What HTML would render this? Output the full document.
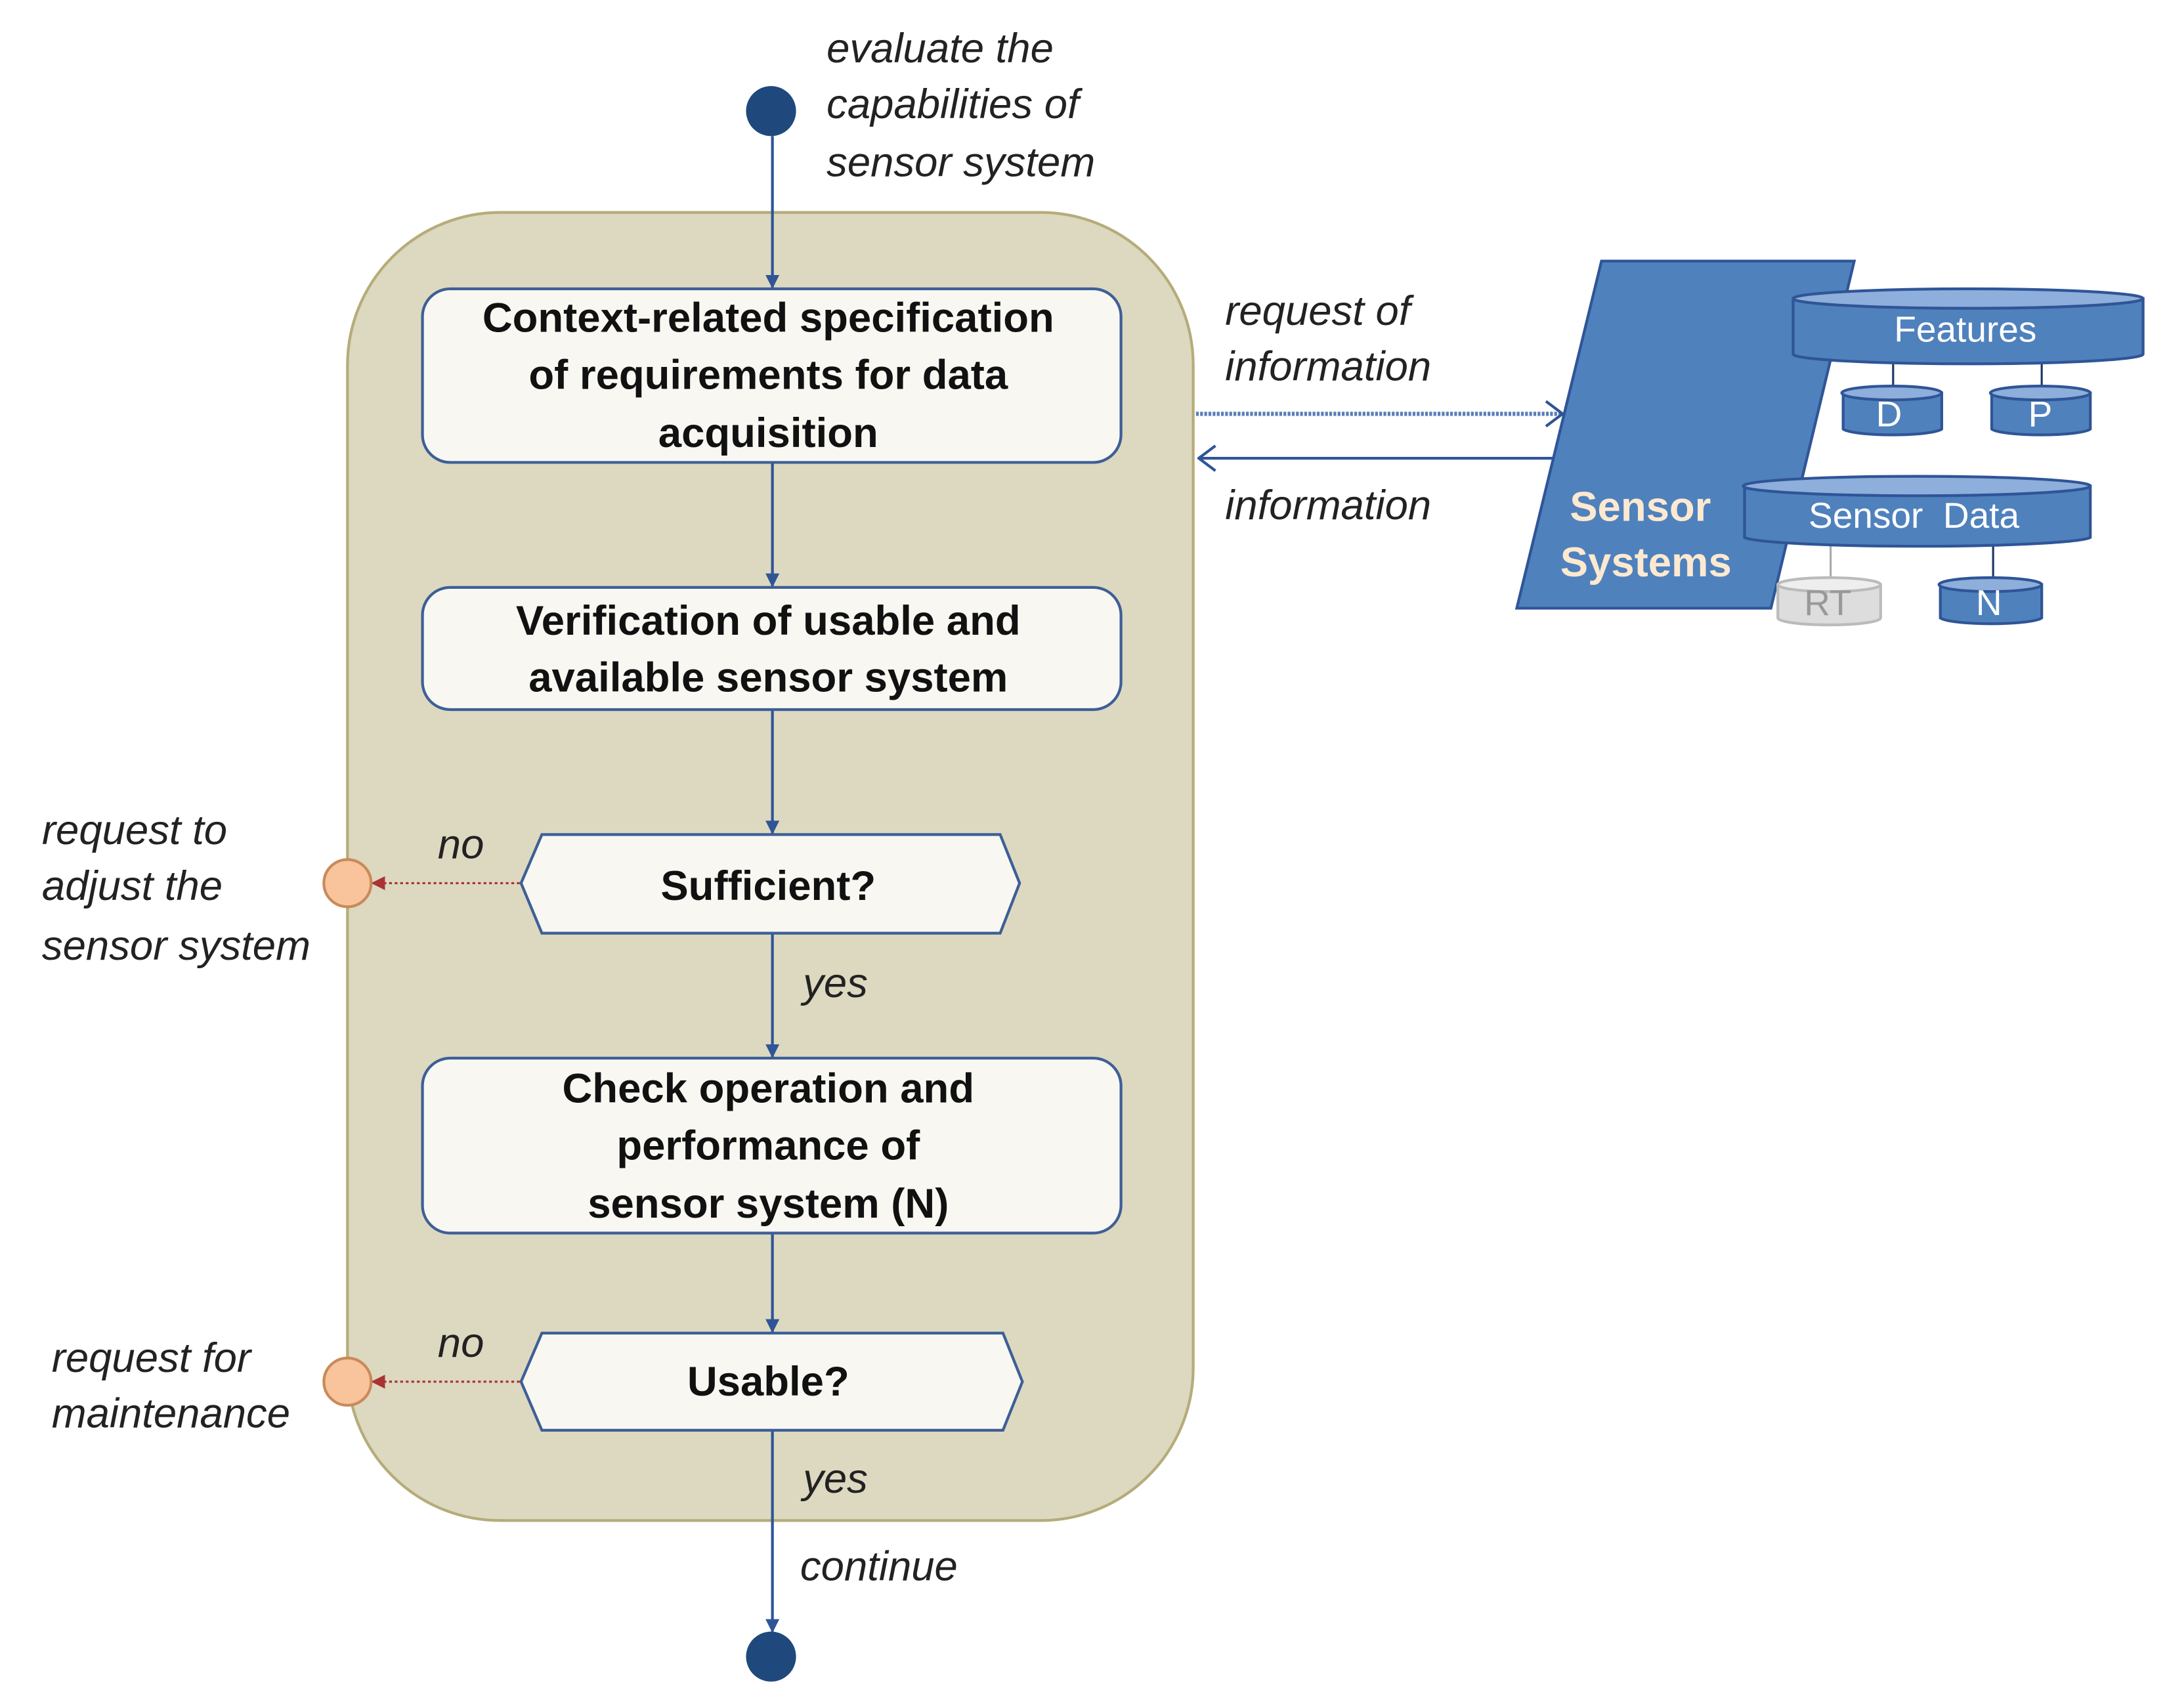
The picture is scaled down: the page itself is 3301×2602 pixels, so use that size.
<!DOCTYPE html>
<html><head><meta charset="utf-8"><style>
html,body{margin:0;padding:0;background:#fff;}
svg{display:block;}
text{font-family:"Liberation Sans",sans-serif;}
.b{font-weight:bold;font-size:30px;fill:#111;text-anchor:middle;}
.i{font-style:italic;font-size:30px;fill:#222;}
</style></head><body>
<svg width="3301" height="2602" viewBox="0 0 1560 1230" xmlns="http://www.w3.org/2000/svg">
<defs>
<marker id="ab" markerWidth="10" markerHeight="10" refX="9" refY="5" orient="auto" markerUnits="userSpaceOnUse"><path d="M0,0 L10,5 L0,10 Z" fill="#2f5597"/></marker>
<marker id="ar" markerWidth="10" markerHeight="10" refX="9" refY="5" orient="auto" markerUnits="userSpaceOnUse"><path d="M0,0 L10,5 L0,10 Z" fill="#a33"/></marker>
<marker id="ao" markerWidth="14" markerHeight="20" refX="13" refY="10" orient="auto" markerUnits="userSpaceOnUse"><path d="M1,1 L13,10 L1,19" fill="none" stroke="#2f5597" stroke-width="2"/></marker>
</defs>
<rect x="250" y="153" width="609" height="942" rx="110" fill="#ddd8c0" stroke="#b5ac7a" stroke-width="2"/>
<circle cx="555" cy="80" r="18" fill="#1f497d"/>
<circle cx="555" cy="1193" r="18" fill="#1f497d"/>
<text class="i" x="595" y="45">evaluate the</text>
<text class="i" x="595" y="85">capabilities of</text>
<text class="i" x="595" y="127">sensor system</text>
<g stroke="#2f5597" stroke-width="2" marker-end="url(#ab)">
<line x1="556" y1="98" x2="556" y2="207"/>
<line x1="556" y1="333" x2="556" y2="422"/>
<line x1="556" y1="511" x2="556" y2="600"/>
<line x1="556" y1="672" x2="556" y2="761"/>
<line x1="556" y1="888" x2="556" y2="959"/>
<line x1="556" y1="1030" x2="556" y2="1175"/>
</g>
<g fill="#f8f7f2" stroke="#3d5f96" stroke-width="2">
<rect x="304" y="208" width="503" height="125" rx="20"/>
<rect x="304" y="423" width="503" height="88" rx="20"/>
<rect x="304" y="762" width="503" height="126" rx="20"/>
<polygon points="390,601 720,601 734,636 720,672 390,672 375,636"/>
<polygon points="390,960 722,960 736,995 722,1030 390,1030 375,995"/>
</g>
<text class="b" x="553" y="239">Context-related specification</text>
<text class="b" x="553" y="280">of requirements for data</text>
<text class="b" x="553" y="322">acquisition</text>
<text class="b" x="553" y="457">Verification of usable and</text>
<text class="b" x="553" y="498">available sensor system</text>
<text class="b" x="553" y="648">Sufficient?</text>
<text class="b" x="553" y="794">Check operation and</text>
<text class="b" x="553" y="835">performance of</text>
<text class="b" x="553" y="877">sensor system (N)</text>
<text class="b" x="553" y="1005">Usable?</text>
<text class="i" x="315" y="618">no</text>
<text class="i" x="315" y="977">no</text>
<text class="i" x="578" y="718">yes</text>
<text class="i" x="578" y="1075">yes</text>
<text class="i" x="576" y="1138">continue</text>
<g stroke="#a33" stroke-width="1.5" stroke-dasharray="2,2" marker-end="url(#ar)">
<line x1="374" y1="636" x2="268" y2="636"/>
<line x1="374" y1="995" x2="268" y2="995"/>
</g>
<circle cx="250" cy="636" r="17" fill="#f9c49c" stroke="#c98a5a" stroke-width="2"/>
<circle cx="250" cy="995" r="17" fill="#f9c49c" stroke="#c98a5a" stroke-width="2"/>
<text class="i" x="30" y="608">request to</text>
<text class="i" x="30" y="648">adjust the</text>
<text class="i" x="30" y="691">sensor system</text>
<text class="i" x="37" y="988">request for</text>
<text class="i" x="37" y="1028">maintenance</text>
<text class="i" x="882" y="234">request of</text>
<text class="i" x="882" y="274">information</text>
<text class="i" x="882" y="374">information</text>
<line x1="861" y1="298" x2="1125" y2="298" stroke="#5a7fb8" stroke-width="3" stroke-dasharray="2,1" marker-end="url(#ao)"/>
<line x1="1118" y1="330" x2="863" y2="330" stroke="#2f5597" stroke-width="2" marker-end="url(#ao)"/>
<polygon points="1153,188 1335,188 1275,438 1092,438" fill="#4f81bd" stroke="#2f5597" stroke-width="2"/>
<text x="1181" y="375" text-anchor="middle" font-size="30" font-weight="bold" fill="#fde9d0">Sensor</text>
<text x="1185" y="415" text-anchor="middle" font-size="30" font-weight="bold" fill="#fde9d0">Systems</text>
<g stroke="#1f3864" stroke-width="1.5">
<line x1="1363" y1="262" x2="1363" y2="280"/>
<line x1="1470" y1="262" x2="1470" y2="280"/>
<line x1="1435" y1="393" x2="1435" y2="418"/>
</g>
<line x1="1318" y1="393" x2="1318" y2="418" stroke="#aaa" stroke-width="1.5"/>
<g stroke="#2f5597" stroke-width="2">
<path d="M1291,215 L1291,255 A126,7 0 0 0 1543,255 L1543,215 Z" fill="#4f81bd"/>
<ellipse cx="1417" cy="215" rx="126" ry="7" fill="#8eaedb"/>
<path d="M1327,283 L1327,309 A36,5 0 0 0 1398,309 L1398,283 Z" fill="#4f81bd"/>
<ellipse cx="1362" cy="283" rx="36" ry="5" fill="#8eaedb"/>
<path d="M1434,283 L1434,309 A36,5 0 0 0 1505,309 L1505,283 Z" fill="#4f81bd"/>
<ellipse cx="1469" cy="283" rx="36" ry="5" fill="#8eaedb"/>
<path d="M1256,350 L1256,387 A125,7 0 0 0 1505,387 L1505,350 Z" fill="#4f81bd"/>
<ellipse cx="1380" cy="350" rx="125" ry="7" fill="#8eaedb"/>
<path d="M1397,421 L1397,445 A37,5 0 0 0 1470,445 L1470,421 Z" fill="#4f81bd"/>
<ellipse cx="1433" cy="421" rx="37" ry="5" fill="#8eaedb"/>
</g>
<g stroke="#bbb" stroke-width="2">
<path d="M1280,421 L1280,445 A37,5 0 0 0 1354,445 L1354,421 Z" fill="#ddd"/>
<ellipse cx="1317" cy="421" rx="37" ry="5" fill="#eee"/>
</g>
<g fill="#fff" font-size="26" text-anchor="middle">
<text x="1415" y="246">Features</text>
<text x="1360" y="307">D</text>
<text x="1469" y="307">P</text>
<text x="1378" y="380">Sensor&#160;&#160;Data</text>
<text x="1432" y="443">N</text>
<text x="1316" y="443" fill="#999">RT</text>
</g>
</svg>
</body></html>
